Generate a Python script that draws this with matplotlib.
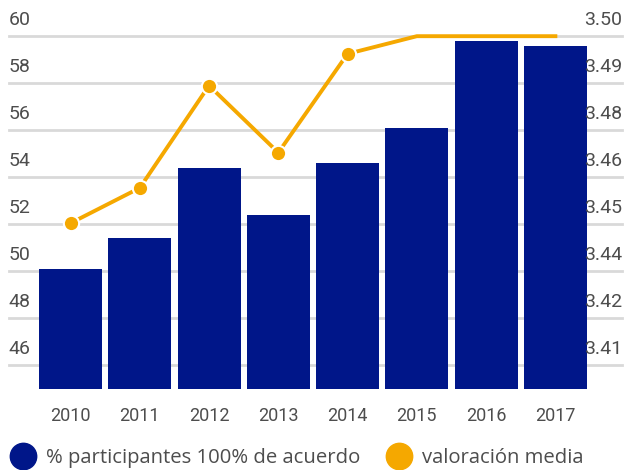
import numpy as np
import matplotlib
matplotlib.use('Agg')
from matplotlib import pyplot as plt
from matplotlib.lines import Line2D

plt.rcParams['font.family'] = ['Liberation Sans Narrow', 'Roboto', 'DejaVu Sans']

# data
years = ['2010', '2011', '2012', '2013', '2014', '2015', '2016', '2017']
pct_acuerdo = [50.1, 51.4, 54.4, 52.4, 54.6, 56.1, 59.8, 59.6]
valoracion = [3.447, 3.457, 3.486, 3.467, 3.495, 3.500, 3.500, 3.500]
left_ticks = [46, 48, 50, 52, 54, 56, 58, 60]
right_labels = ['3.41', '3.42', '3.44', '3.45', '3.46', '3.48', '3.49', '3.50']

navy = '#001689'
orange = '#F5A800'
grid_c = '#D9D9D9'
text_c = '#4D4D4D'

fig = plt.figure(figsize=(6.25, 4.7), dpi=100)
ax = fig.add_axes([0.0574, 0.1723, 0.8866, 0.7507])
x = np.arange(len(years))

ax.set_xlim(-0.5, len(years) - 0.5)
ax.set_ylim(45, 60)
for v in left_ticks:
    ax.axhline(v, xmin=-0.049, xmax=1.058, color=grid_c, lw=2, clip_on=False, zorder=0)
ax.bar(x, np.array(pct_acuerdo) - 45, bottom=45, width=0.91, color=navy, zorder=2)

# right axis, aligned with the left gridlines
ax2 = ax.twinx()
ax2.set_ylim(3.40, 3.50)
ax2.plot(x, valoracion, color=orange, lw=2.8, marker='o', ms=11,
         mfc=orange, mec='white', mew=1.5, markevery=[0, 1, 2, 3, 4],
         clip_on=False, zorder=3)

for a in (ax, ax2):
    for s in a.spines.values():
        s.set_visible(False)
    a.set_yticks([])
ax.set_xticks(x)
ax.set_xticklabels(years, fontsize=13, color=text_c)
ax.tick_params(axis='x', length=0, pad=13)

# axis labels above the gridlines
ytr = ax.get_yaxis_transform()
for v, r in zip(left_ticks, right_labels):
    ax.text(-0.049, v + 0.3, str(v), transform=ytr, ha='left', va='bottom',
            fontsize=14, color=text_c)
    ax.text(1.058, v + 0.3, r, transform=ytr, ha='right', va='bottom',
            fontsize=14, color=text_c)

handles = [Line2D([], [], ls='none', marker='o', ms=19, color=navy),
           Line2D([], [], ls='none', marker='o', ms=19, color=orange)]
fig.legend(handles, ['% participantes 100% de acuerdo', 'valoración media'],
           loc='center left', bbox_to_anchor=(-0.012, 0.025), ncol=2, frameon=False,
           prop={'family': ['Open Sans', 'DejaVu Sans'], 'size': 14.6},
           labelcolor=text_c, handletextpad=0.55, columnspacing=1.3, handlelength=1.2)

fig.savefig('out.png', dpi=100)
